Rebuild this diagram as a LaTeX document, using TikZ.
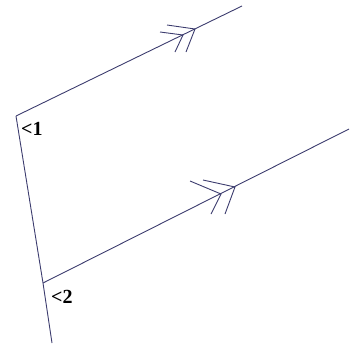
\documentclass[tikz,border=0pt]{standalone}
\usepackage{fontspec}
\setmainfont{Liberation Serif}
\definecolor{ln}{RGB}{60,60,110}
\begin{document}
\begin{tikzpicture}[x=1pt,y=-1pt,
  ln/.style={draw=ln,line width=0.9pt},
  lbl/.style={font=\bfseries\fontsize{20}{20}\selectfont,inner sep=0pt,anchor=base west}]
\useasboundingbox (0,0) rectangle (350,343);
\coordinate (A) at (16,116);
\coordinate (B) at (43,283);
\coordinate (Abot) at (52,343);
\coordinate (A1) at (242,6);
\coordinate (B1) at (349,129);
\draw[ln] (A) -- (B) -- (Abot);
\draw[ln] (A) -- (A1);
\draw[ln] (B) -- (B1);
% chevrons on line 1
\coordinate (p1) at (195,29);
\coordinate (p2) at (183,35);
\draw[ln] (167,25) -- (p1) -- (186,52);
\draw[ln] (160,32) -- (p2) -- (175,52);
% chevrons on line 2
\coordinate (q1) at (235,187);
\coordinate (q2) at (221,194);
\draw[ln] (203,180) -- (q1) -- (225,214);
\draw[ln] (190,181) -- (q2) -- (211,214);
\node[lbl] (l1) at (21,135) {<1};
\node[lbl] (l2) at (51,303) {<2};
\end{tikzpicture}
\end{document}
